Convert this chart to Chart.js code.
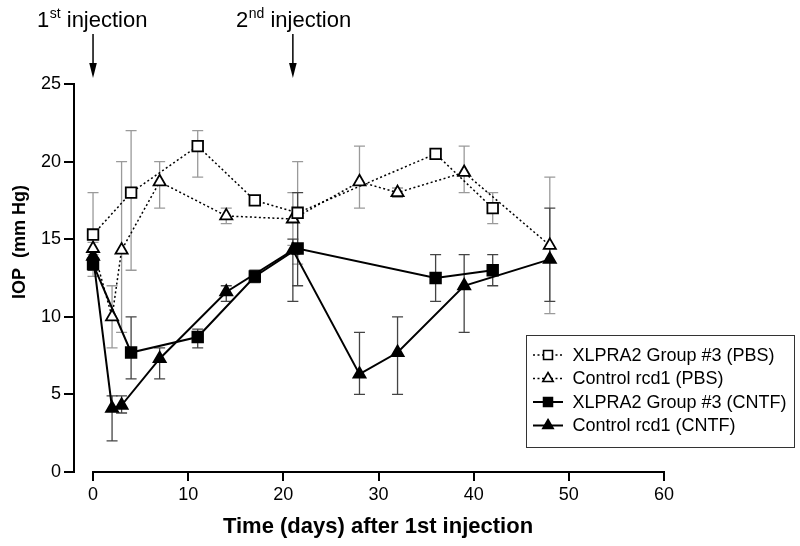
<!DOCTYPE html>
<html>
<head>
<meta charset="utf-8">
<script src="https://cdn.jsdelivr.net/npm/chart.js@4.4.1/dist/chart.umd.min.js"></script>
<style>
    body { margin: 0; background: #ffffff; }
    #chart-wrap { width: 800px; height: 546px; }
</style>
</head>
<body>
<div id="chart-wrap"><canvas id="iop-chart"></canvas></div>
<script>
// =========================================================
// DATA
// =========================================================

const xTicks = [0, 10, 20, 30, 40, 50, 60];
const yTicks = [0, 5, 10, 15, 20, 25];
const injectionDays = [0, 21];
const injectionLabels = [["1", "st"], ["2", "nd"]];

// XLPRA2 Group #3 (PBS)
const xlpraPbsDays = [0, 4, 11, 17, 21.5, 36, 42];
const xlpraPbsIop = [15.3, 18.0, 21.0, 17.5, 16.7, 20.5, 17.0];
const xlpraPbsHigh = [18.0, 22.0, 22.0, 17.8, 20.0, 20.8, 18.0];
const xlpraPbsLow = [12.6, 13.0, 19.0, 17.2, 13.4, 20.2, 16.0];

// Control rcd1 (PBS)
const controlPbsDays = [0, 2, 3, 7, 14, 21, 28, 32, 39, 48];
const controlPbsIop = [14.4, 10.0, 14.3, 18.7, 16.5, 16.3, 18.7, 18.0, 19.3, 14.6];
const controlPbsHigh = [14.8, 12.0, 20.0, 20.0, 17.0, 18.0, 21.0, 18.3, 21.0, 19.0];
const controlPbsLow = [14.0, 8.0, 9.0, 17.0, 16.0, 14.6, 17.0, 17.7, 18.0, 10.2];

// XLPRA2 Group #3 (CNTF)
const xlpraCntfDays = [0, 4, 11, 17, 21.5, 36, 42];
const xlpraCntfIop = [13.4, 7.7, 8.7, 12.6, 14.4, 12.5, 13.0];
const xlpraCntfHigh = [13.8, 10.0, 9.2, 13.0, 18.0, 14.0, 14.0];
const xlpraCntfLow = [13.0, 6.0, 8.0, 12.2, 12.0, 11.0, 12.0];

// Control rcd1 (CNTF)
const controlCntfDays = [0, 2, 3, 7, 14, 21, 28, 32, 39, 48];
const controlCntfIop = [13.9, 4.1, 4.3, 7.3, 11.6, 14.3, 6.3, 7.7, 12.0, 13.7];
const controlCntfHigh = [14.2, 4.9, 4.9, 8.0, 12.0, 15.0, 9.0, 10.0, 14.0, 17.0];
const controlCntfLow = [13.6, 2.0, 3.8, 6.0, 11.0, 11.0, 5.0, 5.0, 9.0, 11.0];

// =========================================================
// SETUP
// =========================================================

const FONT_FAMILY = "'Liberation Sans', Arial, Helvetica, sans-serif";

const SERIES = [
    createSeries("XLPRA2 Group #3 (PBS)", xlpraPbsDays, xlpraPbsIop, xlpraPbsHigh, xlpraPbsLow, "rect", false),
    createSeries("Control rcd1 (PBS)", controlPbsDays, controlPbsIop, controlPbsHigh, controlPbsLow, "triangle", false),
    createSeries("XLPRA2 Group #3 (CNTF)", xlpraCntfDays, xlpraCntfIop, xlpraCntfHigh, xlpraCntfLow, "rect", true),
    createSeries("Control rcd1 (CNTF)", controlCntfDays, controlCntfIop, controlCntfHigh, controlCntfLow, "triangle", true)
];

function createSeries(label, days, values, high, low, pointStyle, filled) {
    return {
        label: label,
        days: days,
        values: values,
        high: high,
        low: low,
        pointStyle: pointStyle,
        filled: filled
    };
}

function toPoints(series) {
    return series.days.map(function (day, index) {
        return { x: day, y: series.values[index] };
    });
}

function buildDataset(series) {
    return {
        label: series.label,
        data: toPoints(series),
        showLine: true,
        borderColor: "#000000",
        borderWidth: series.filled ? 2 : 1.5,
        borderDash: series.filled ? [] : [2, 2.5],
        pointStyle: series.pointStyle,
        pointRadius: series.pointStyle === "rect" ? 7.5 : 7,
        pointHoverRadius: series.pointStyle === "rect" ? 7.5 : 7,
        pointBackgroundColor: series.filled ? "#000000" : "#ffffff",
        pointBorderColor: "#000000",
        pointBorderWidth: 1.8,
        tension: 0
    };
}

// =========================================================
// PLUGINS
// =========================================================

const errorBarPlugin = {
    id: "errorBars",
    beforeDatasetsDraw(chart) {
        const ctx = chart.ctx;
        const xScale = chart.scales.x;
        const yScale = chart.scales.y;

        ctx.save();
        ctx.lineWidth = 1.3;

        for (let seriesIndex = 0; seriesIndex < SERIES.length; seriesIndex++) {
            const series = SERIES[seriesIndex];
            ctx.strokeStyle = series.filled ? "#444444" : "#9a9a9a";

            for (let pointIndex = 0; pointIndex < series.days.length; pointIndex++) {
                const x = xScale.getPixelForValue(series.days[pointIndex]);
                const top = yScale.getPixelForValue(series.high[pointIndex]);
                const bottom = yScale.getPixelForValue(series.low[pointIndex]);

                ctx.beginPath();
                ctx.moveTo(x, top);
                ctx.lineTo(x, bottom);
                ctx.moveTo(x - 5.5, top);
                ctx.lineTo(x + 5.5, top);
                ctx.moveTo(x - 5.5, bottom);
                ctx.lineTo(x + 5.5, bottom);
                ctx.stroke();
            }
        }

        ctx.restore();
    }
};

const decorationPlugin = {
    id: "decorations",
    afterDraw(chart) {
        const ctx = chart.ctx;
        const xScale = chart.scales.x;
        const area = chart.chartArea;

        ctx.save();

        // detached x axis line
        ctx.strokeStyle = "#000000";
        ctx.lineWidth = 2;
        ctx.beginPath();
        ctx.moveTo(xScale.getPixelForValue(xTicks[0]) - 1, area.bottom);
        ctx.lineTo(xScale.getPixelForValue(xTicks[xTicks.length - 1]) + 1, area.bottom);
        ctx.stroke();

        drawAxisTitles(ctx);
        drawInjectionMarkers(ctx, xScale);
        drawLegend(ctx);

        ctx.restore();
    }
};

function drawAxisTitles(ctx) {
    ctx.fillStyle = "#000000";
    ctx.font = "bold 22px " + FONT_FAMILY;
    ctx.textAlign = "center";
    ctx.textBaseline = "alphabetic";
    ctx.fillText("Time (days) after 1st injection", 378, 533);

    ctx.save();
    ctx.translate(20, 242);
    ctx.rotate(-Math.PI / 2);
    ctx.textBaseline = "middle";
    ctx.font = "bold 18px " + FONT_FAMILY;
    ctx.fillText("IOP  (mm Hg)", 0, 0);
    ctx.restore();
}

function drawInjectionMarkers(ctx, xScale) {
    const startX = [37, 236];

    for (let index = 0; index < injectionDays.length; index++) {
        const x = xScale.getPixelForValue(injectionDays[index]);
        const label = injectionLabels[index];

        let textX = startX[index];
        ctx.fillStyle = "#000000";
        ctx.textAlign = "left";
        ctx.textBaseline = "alphabetic";
        ctx.font = "22px " + FONT_FAMILY;
        ctx.fillText(label[0], textX, 27);
        textX += ctx.measureText(label[0]).width + 0.5;

        ctx.font = "14px " + FONT_FAMILY;
        ctx.fillText(label[1], textX, 18);
        textX += ctx.measureText(label[1]).width;

        ctx.font = "22px " + FONT_FAMILY;
        ctx.fillText(" injection", textX, 27);

        // arrow
        ctx.strokeStyle = "#000000";
        ctx.lineWidth = 1.5;
        ctx.beginPath();
        ctx.moveTo(x, 34);
        ctx.lineTo(x, 66);
        ctx.stroke();

        ctx.beginPath();
        ctx.moveTo(x - 3.8, 63);
        ctx.lineTo(x + 3.8, 63);
        ctx.lineTo(x, 78);
        ctx.closePath();
        ctx.fill();
    }
}

function drawLegend(ctx) {
    const boxLeft = 526.5;
    const boxTop = 335.5;
    const rowY = [355, 378.5, 402, 425.5];

    ctx.strokeStyle = "#333333";
    ctx.lineWidth = 1;
    ctx.strokeRect(boxLeft, boxTop, 268, 112);

    for (let index = 0; index < SERIES.length; index++) {
        const series = SERIES[index];
        const y = rowY[index];

        ctx.strokeStyle = "#000000";
        ctx.lineWidth = series.filled ? 2 : 1.5;
        ctx.setLineDash(series.filled ? [] : [2, 2.5]);
        ctx.beginPath();
        ctx.moveTo(533, y);
        ctx.lineTo(563, y);
        ctx.stroke();
        ctx.setLineDash([]);

        ctx.fillStyle = series.filled ? "#000000" : "#ffffff";
        ctx.strokeStyle = "#000000";
        ctx.lineWidth = 1.6;
        Chart.helpers.drawPoint(ctx, {
            pointStyle: series.pointStyle,
            radius: series.pointStyle === "rect" ? 6.3 : 6,
            rotation: 0,
            borderWidth: 1.6
        }, 548, y);

        ctx.fillStyle = "#000000";
        ctx.font = "18px " + FONT_FAMILY;
        ctx.textAlign = "left";
        ctx.textBaseline = "middle";
        ctx.fillText(series.label, 572.5, y + 1);
    }
}

// =========================================================
// CHART
// =========================================================

function renderIopChart() {
    const canvas = document.getElementById("iop-chart");

    return new Chart(canvas, {
        type: "scatter",
        data: {
            datasets: SERIES.map(buildDataset)
        },
        options: {
            responsive: true,
            maintainAspectRatio: false,
            animation: false,
            events: [],
            layout: {
                padding: {
                    top: 84,
                    right: 136,
                    bottom: 0,
                    left: 0
                }
            },
            scales: {
                x: {
                    type: "linear",
                    min: -2,
                    max: 60,
                    afterBuildTicks: function (scale) {
                        scale.ticks = xTicks.map(value => ({ value: value }));
                    },
                    afterFit: function (scale) {
                        scale.height = 74;
                    },
                    border: {
                        display: false
                    },
                    grid: {
                        drawOnChartArea: false,
                        drawTicks: true,
                        tickLength: 9,
                        color: "#000000",
                        lineWidth: 2
                    },
                    ticks: {
                        color: "#000000",
                        padding: 3,
                        font: {
                            family: FONT_FAMILY,
                            size: 18
                        }
                    }
                },
                y: {
                    min: 0,
                    max: 25,
                    afterBuildTicks: function (scale) {
                        scale.ticks = yTicks.map(value => ({ value: value }));
                    },
                    afterFit: function (scale) {
                        scale.width = 74;
                    },
                    border: {
                        display: true,
                        color: "#000000",
                        width: 2
                    },
                    grid: {
                        drawOnChartArea: false,
                        drawTicks: true,
                        tickLength: 10,
                        color: "#000000",
                        lineWidth: 2
                    },
                    ticks: {
                        color: "#000000",
                        padding: 3,
                        font: {
                            family: FONT_FAMILY,
                            size: 18
                        }
                    }
                }
            },
            plugins: {
                legend: {
                    display: false
                },
                tooltip: {
                    enabled: false
                }
            }
        },
        plugins: [errorBarPlugin, decorationPlugin]
    });
}

renderIopChart();
</script>
</body>
</html>
